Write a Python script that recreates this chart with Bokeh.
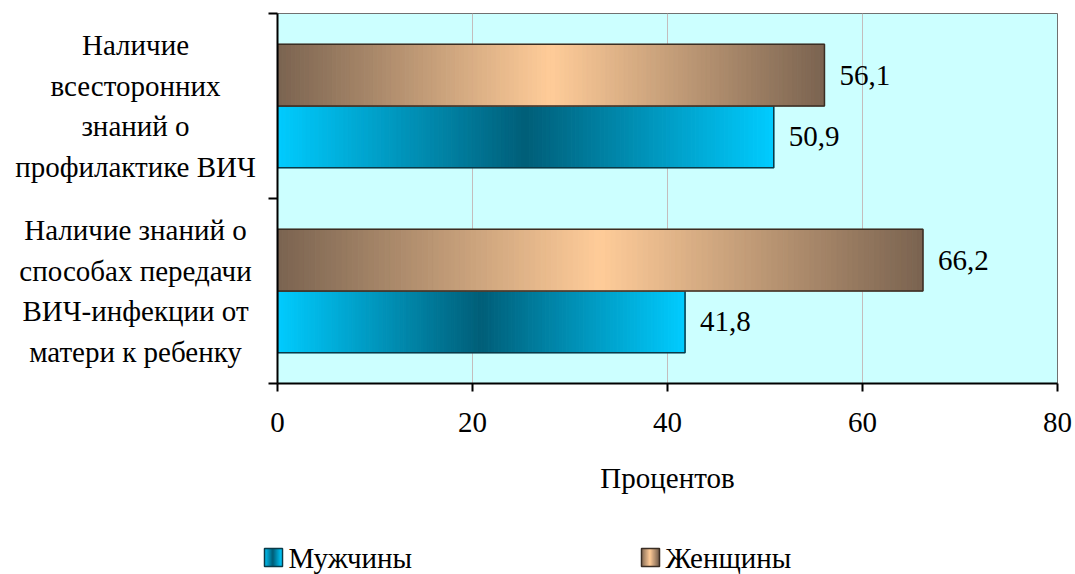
from bokeh.plotting import figure
from bokeh.models import Range1d, FixedTicker, ColumnDataSource
from bokeh.layouts import row, column
from bokeh.embed import file_html
from bokeh.resources import INLINE
from bokeh.core.properties import value

# ---- data ----
categories = ["Наличие знаний о\nспособах передачи\nВИЧ-инфекции от\nматери к ребенку",
              "Наличие\nвсесторонних\nзнаний о\nпрофилактике ВИЧ"]
cat_pos = [0.5, 1.5]
men = [41.8, 50.9]
women = [66.2, 56.1]
series_names = ["Мужчины", "Женщины"]
x_ticks = [0, 20, 40, 60, 80]

FONT = "Liberation Serif"
FS = "29px"

MEN_EDGE, MEN_MID, MEN_LINE = "#00CCFF", "#005E78", "#0A3A48"
WOM_EDGE, WOM_MID, WOM_LINE = "#7A6350", "#FFCC99", "#3A2E24"


def hex2rgb(h):
    h = h.lstrip("#")
    return tuple(int(h[i:i + 2], 16) for i in (0, 2, 4))


def mix(c1, c2, t):
    a, b = hex2rgb(c1), hex2rgb(c2)
    return "#%02x%02x%02x" % tuple(int(round(a[i] + (b[i] - a[i]) * t)) for i in range(3))


def grad(edge, mid, t):
    d = 1 - abs(2 * t - 1)
    return mix(edge, mid, d)


TOP_H = 522
FRAME_TOP = 13
FRAME_BOTTOM = 383
LAB_W = 261

# ---------- main plot ----------
p = figure(width=812, height=TOP_H, output_backend="svg", toolbar_location=None,
           x_range=Range1d(0, 80), y_range=Range1d(0, 2),
           min_border_left=16, min_border_right=16, min_border_top=FRAME_TOP,
           min_border_bottom=TOP_H - FRAME_BOTTOM)
p.background_fill_color = "#CCFFFF"
p.border_fill_color = "white"
p.outline_line_color = "#707070"
p.outline_line_width = 1

N = 120
bar_h = 1 / 3.0


def gradient_hbar(fig, yc, x0, x1, h, edge, mid, outline):
    lefts, rights, ys, cols = [], [], [], []
    for i in range(N):
        lefts.append(x0 + (x1 - x0) * i / N)
        rights.append(x0 + (x1 - x0) * (i + 1) / N)
        ys.append(yc)
        cols.append(grad(edge, mid, (i + 0.5) / N))
    src = ColumnDataSource(dict(y=ys, left=lefts, right=rights, c=cols))
    fig.hbar(y="y", left="left", right="right", height=h, fill_color="c", line_color="c",
             line_width=1, source=src)
    fig.hbar(y=[yc], left=[x0], right=[x1], height=h, fill_color=None,
             line_color=outline, line_width=1.5)


for yc, vm, vw in zip(cat_pos, men, women):
    gradient_hbar(p, yc - 1 / 6.0, 0, vm, bar_h, MEN_EDGE, MEN_MID, MEN_LINE)
    gradient_hbar(p, yc + 1 / 6.0, 0, vw, bar_h, WOM_EDGE, WOM_MID, WOM_LINE)

# value labels
lab_x = men + women
lab_y = [c - 1 / 6.0 for c in cat_pos] + [c + 1 / 6.0 for c in cat_pos]
lab_t = [("%.1f" % v).replace(".", ",") for v in lab_x]
p.text(x=lab_x, y=lab_y, text=lab_t, x_offset=15, text_align="left", text_baseline="middle",
       text_font=value(FONT), text_font_size=FS, text_color="black")

# axes
p.xaxis.ticker = FixedTicker(ticks=x_ticks)
p.xaxis.axis_line_color = "black"
p.xaxis.axis_line_width = 2
p.xaxis.major_tick_line_width = 2
p.xaxis.major_tick_line_color = "black"
p.xaxis.major_tick_out = 8
p.xaxis.major_tick_in = 0
p.xaxis.minor_tick_line_color = None
p.xaxis.major_label_text_font = FONT
p.xaxis.major_label_text_font_size = FS
p.xaxis.major_label_text_color = "black"
p.xaxis.major_label_standoff = 21
p.xaxis.axis_label = "Процентов"
p.xaxis.axis_label_text_font = FONT
p.xaxis.axis_label_text_font_size = FS
p.xaxis.axis_label_text_font_style = "normal"
p.xaxis.axis_label_text_color = "black"
p.xaxis.axis_label_standoff = 27

p.yaxis.ticker = FixedTicker(ticks=[0, 1, 2])
p.yaxis.major_label_overrides = {0: "", 1: "", 2: ""}
p.yaxis.major_label_standoff = 0
p.yaxis.axis_line_color = "black"
p.yaxis.axis_line_width = 2
p.yaxis.major_tick_line_width = 2
p.yaxis.major_tick_line_color = "black"
p.yaxis.major_tick_out = 9
p.yaxis.major_tick_in = 0
p.yaxis.minor_tick_line_color = None

p.xgrid.ticker = FixedTicker(ticks=x_ticks)
p.xgrid.grid_line_color = "#C4BCBC"
p.ygrid.grid_line_color = None

# ---------- category labels (left panel) ----------
pl = figure(width=LAB_W, height=TOP_H, output_backend="svg", toolbar_location=None,
            x_range=Range1d(0, LAB_W), y_range=p.y_range,
            x_axis_type=None, y_axis_type=None,
            min_border_left=0, min_border_right=0, min_border_top=FRAME_TOP,
            min_border_bottom=TOP_H - FRAME_BOTTOM)
pl.outline_line_color = None
pl.background_fill_color = "white"
pl.border_fill_color = "white"
pl.xgrid.visible = False
pl.ygrid.visible = False
pl.text(x=[135] * len(categories), y=cat_pos, text=categories, text_align="center",
        text_baseline="middle", text_font=value(FONT), text_font_size=FS,
        text_color="black", text_line_height=1.28)

# ---------- legend (bottom panel) ----------
LEG_W, LEG_H = 1073, 52
pg = figure(width=LEG_W, height=LEG_H, output_backend="svg", toolbar_location=None,
            x_range=Range1d(0, LEG_W), y_range=Range1d(0, LEG_H),
            x_axis_type=None, y_axis_type=None,
            min_border_left=0, min_border_right=0, min_border_top=0, min_border_bottom=0)
pg.outline_line_color = None
pg.background_fill_color = "white"
pg.border_fill_color = "white"
pg.xgrid.visible = False
pg.ygrid.visible = False
leg_x = [264, 641]
leg_y = 17
sq = 18
gradient_hbar(pg, leg_y, leg_x[0], leg_x[0] + sq, sq, MEN_EDGE, MEN_MID, MEN_LINE)
gradient_hbar(pg, leg_y, leg_x[1], leg_x[1] + sq, sq, WOM_EDGE, WOM_MID, WOM_LINE)
pg.text(x=[x + sq + 6 for x in leg_x], y=[leg_y] * 2, text=series_names, text_align="left",
        text_baseline="middle", text_font=value(FONT), text_font_size=FS, text_color="black")

layout = column(row(pl, p, spacing=0), pg, spacing=0)
open("out.html", "w").write(file_html(layout, INLINE))
